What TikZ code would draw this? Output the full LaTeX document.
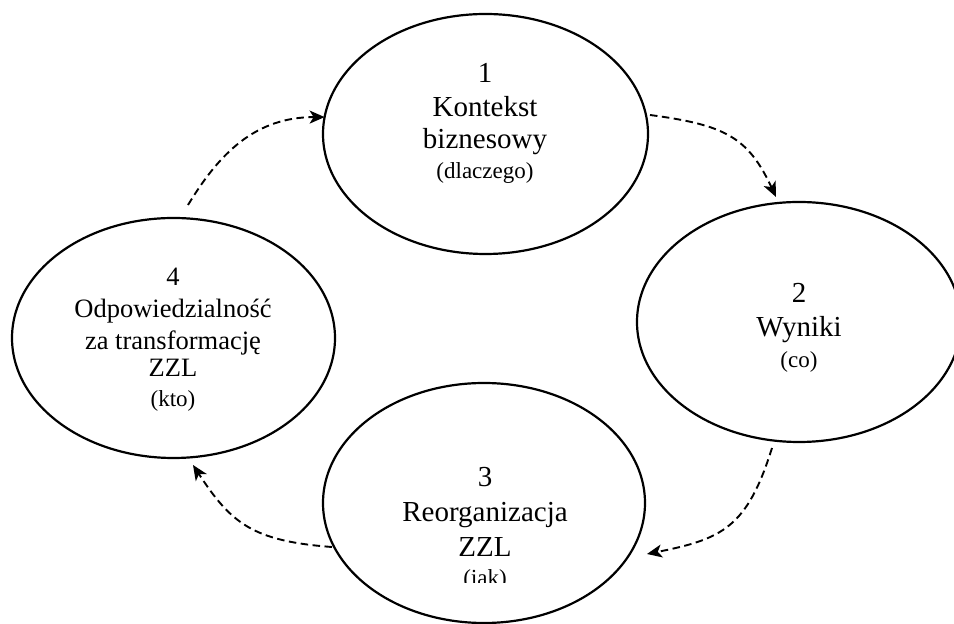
\documentclass[tikz,border=0pt]{standalone}
\usepackage{fontspec}
\setmainfont{Liberation Serif}
\usetikzlibrary{shapes.geometric,arrows.meta,calc}
\begin{document}
\begin{tikzpicture}[x=1pt,y=1pt,
  stage/.style={draw, line width=2.2pt, ellipse, inner sep=0pt, outer sep=0pt,
                minimum width=323pt, minimum height=240pt},
  flow/.style={line width=1.9pt, dash pattern=on 7.5pt off 4.5pt,
               -{Stealth[length=15pt,width=13pt,inset=4pt]}},
  lbl/.style={anchor=base, inner sep=0pt, font=\fontsize{29}{34}\selectfont},
  lblsm/.style={anchor=base, inner sep=0pt, font=\fontsize{26.5}{31}\selectfont},
  note/.style={anchor=base, inner sep=0pt, font=\fontsize{23}{27}\selectfont}]
\useasboundingbox (0,0) rectangle (954,624);

% the four stages of the cycle
\node[stage, minimum width=325pt] (e1) at (485.5,490) {};
\node[stage, minimum width=324pt] (e2) at (799,302) {};
\node[stage, minimum width=322pt] (e3) at (484,121) {};
\node[stage] (e4) at (173.5,286) {};

% stage 1
\node[lbl]  (t1a) at (485,541) {1};
\node[lbl]  (t1b) at (485,507) {Kontekst};
\node[lbl]  (t1c) at (485,475) {biznesowy};
\node[note] (t1d) at (485,445) {(dlaczego)};

% stage 2
\node[lbl]  (t2a) at (799,321) {2};
\node[lbl]  (t2b) at (799,287) {Wyniki};
\node[note] (t2c) at (799,256) {(co)};

% stage 3 (last line cut by its text frame)
\node[lbl]  (t3a) at (485,137) {3};
\node[lbl]  (t3b) at (485,102) {Reorganizacja};
\node[lbl]  (t3c) at (485,67) {ZZL};
\begin{scope}
  \clip (0,41.5) rectangle (954,624);
  \node[note] (t3d) at (485,38) {(jak)};
\end{scope}

% stage 4
\node[lblsm] (t4a) at (173,338) {4};
\node[lblsm] (t4b) at (173,306) {Odpowiedzialność};
\node[lblsm] (t4c) at (173,274) {za transformację};
\node[lblsm] (t4d) at (173,247) {ZZL};
\node[note]  (t4e) at (173,217) {(kto)};

% dashed arrows running clockwise
\draw[flow] ($(e4.north)+(14.5,13)$) .. controls +(31,51) and +(-70,0) .. (e1.174);
\draw[flow] ($(e1.east)+(2,19)$) .. controls +(75,-10) and +(-28,60) .. ($(e2.north)+(-23,5)$);
\draw[flow] ($(e2.south)+(-27,-6)$) .. controls +(-25,-80) and +(75,15) .. ($(e3.east)+(2,-51)$);
\draw[flow] ($(e3.west)+(9,-44)$) .. controls +(-80,6) and +(38,-58) .. ($(e4.south)+(19.5,-7)$);
\end{tikzpicture}
\end{document}
